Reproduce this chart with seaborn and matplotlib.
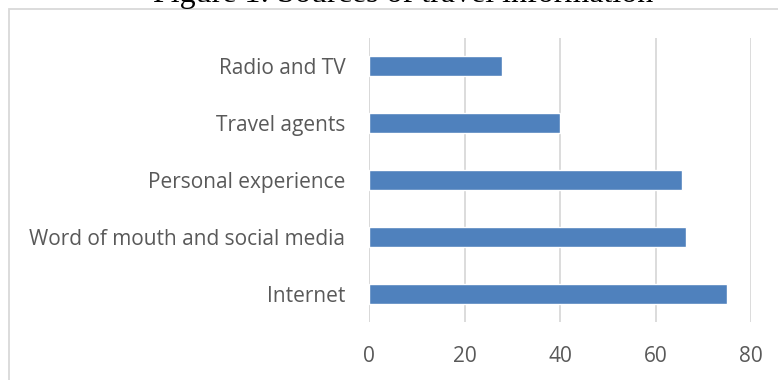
import matplotlib
matplotlib.use("Agg")
import matplotlib.pyplot as plt
from matplotlib.patches import Rectangle
import seaborn as sns
import pandas as pd

sources = ["Radio and TV", "Travel agents", "Personal experience",
           "Word of mouth and social media", "Internet"]
shares = [27.8, 39.9, 65.6, 66.4, 75.0]
x_ticks = [0, 20, 40, 60, 80]

df = pd.DataFrame({"source": sources, "share": shares})

sns.set_theme(style="white")
plt.rcParams["font.family"] = ["Open Sans", "DejaVu Sans"]

fig = plt.figure(figsize=(7.78, 3.8), dpi=100)
W, H = 778, 380
ax = fig.add_axes([369 / W, 1 - 322 / H, (751 - 369) / W, (322 - 38) / H])

sns.barplot(data=df, x="share", y="source", order=sources, orient="h",
            color="#4f81bd", saturation=1, width=0.35, ax=ax, zorder=3)

ax.set_xlim(0, 80)
ax.set_ylim(len(sources) - 0.5, -0.5)
ax.set_xticks(x_ticks)
ax.set_xticklabels([str(t) for t in x_ticks])
ax.xaxis.grid(True, color="#d9d9d9", linewidth=1.3, zorder=0)
ax.yaxis.grid(False)
for s in ax.spines.values():
    s.set_visible(False)
ax.axvline(0, color="#d9d9d9", linewidth=1.3, zorder=1)
ax.set_xlabel("")
ax.set_ylabel("")
ax.tick_params(axis="y", length=0, pad=17, labelsize=15, labelcolor="#595959")
ax.tick_params(axis="x", length=0, pad=17, labelsize=15, labelcolor="#595959")

# chart area frame
fig.patches.append(Rectangle((9 / W, -0.1), 1.2, 1 - 9 / H + 0.1,
                             transform=fig.transFigure, fill=False,
                             edgecolor="#d9d9d9", linewidth=1.3))

fig.text(403 / W, 1 - 2 / H, "Figure 1: Sources of travel information",
         ha="center", va="baseline", fontsize=23,
         family=["Liberation Serif", "DejaVu Serif"], color="black")

fig.savefig("out.png", dpi=100, facecolor="white")
